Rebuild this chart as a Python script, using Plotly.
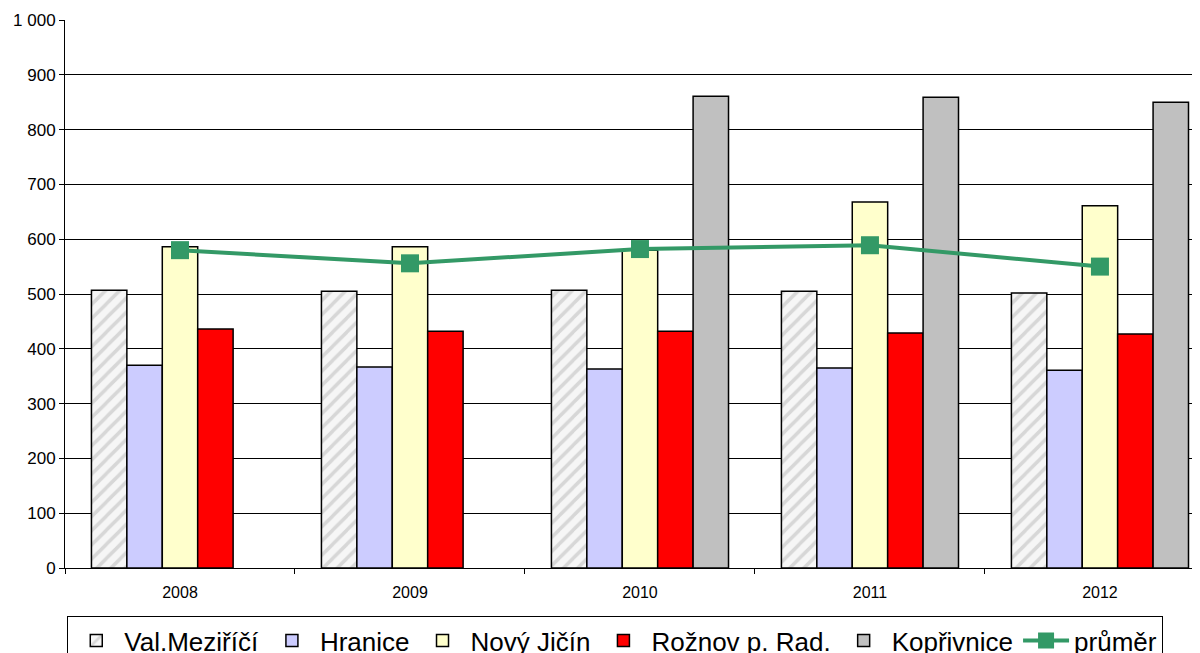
import plotly.graph_objects as go

years = ["2008", "2009", "2010", "2011", "2012"]
val_mezirici = [507, 505, 507, 505, 502]
hranice = [370, 367, 363, 365, 361]
novy_jicin = [586, 586, 580, 668, 661]
roznov = [436, 432, 432, 429, 427]
koprivnice = [None, None, 861, 859, 850]
prumer = [580, 556, 582, 589, 550]

y_ticks = [0, 100, 200, 300, 400, 500, 600, 700, 800, 900, 1000]
y_tick_text = ["0", "100", "200", "300", "400", "500", "600", "700", "800", "900", "1 000"]

FONT = "Liberation Sans, Arial, sans-serif"
outline = {"color": "black", "width": 1.5}

fig = go.Figure()
fig.add_trace(go.Bar(
    name="Val.Meziříčí", x=years, y=val_mezirici,
    marker={"color": "#f4f4f4", "line": outline,
            "pattern": {"shape": "/", "fgcolor": "#b8b8b8", "bgcolor": "#f6f6f6",
                        "size": 10, "solidity": 0.35}},
))
fig.add_trace(go.Bar(name="Hranice", x=years, y=hranice,
                     marker={"color": "#CCCCFF", "line": outline}))
fig.add_trace(go.Bar(name="Nový Jičín", x=years, y=novy_jicin,
                     marker={"color": "#FFFFCC", "line": outline}))
fig.add_trace(go.Bar(name="Rožnov p. Rad.", x=years, y=roznov,
                     marker={"color": "#FF0000", "line": outline}))
fig.add_trace(go.Bar(name="Kopřivnice", x=years, y=koprivnice,
                     marker={"color": "#C0C0C0", "line": outline}))
fig.add_trace(go.Scatter(
    name="průměr", x=years, y=prumer, mode="lines+markers",
    line={"color": "#339966", "width": 4},
    marker={"symbol": "square", "size": 18, "color": "#339966"},
))

# the page body has an 8px margin, so the plot box is shifted to compensate
fig.update_layout(
    width=1192,
    height=645,
    margin={"l": 57, "r": 0, "t": 12, "b": 85, "autoexpand": False},
    paper_bgcolor="white",
    plot_bgcolor="white",
    barmode="group",
    bargap=0.23,
    bargroupgap=0,
    font={"family": FONT, "color": "black", "size": 16},
    showlegend=True,
    legend={
        "orientation": "h",
        "x": 0.002, "xanchor": "left",
        "y": -0.088, "yanchor": "top",
        "font": {"family": FONT, "size": 26, "color": "black"},
        "bordercolor": "black", "borderwidth": 1,
        "bgcolor": "white",
        "itemwidth": 46,
        "traceorder": "normal",
    },
    xaxis={
        "type": "category",
        "range": [-0.5, 4.435],
        "showline": True, "linecolor": "black", "linewidth": 1,
        "ticks": "outside", "tickson": "boundaries", "ticklen": 5,
        "tickcolor": "black",
        "tickfont": {"size": 16},
        "ticklabelstandoff": 10,
        "showgrid": False,
    },
    yaxis={
        "range": [0, 1000],
        "tickvals": y_ticks, "ticktext": y_tick_text,
        "showline": True, "linecolor": "black", "linewidth": 1,
        "ticks": "outside", "ticklen": 5, "tickcolor": "black",
        "showgrid": True, "gridcolor": "black", "gridwidth": 1,
        "tickfont": {"size": 17},
        "zeroline": False,
    },
)

fig.write_html("out.html")
